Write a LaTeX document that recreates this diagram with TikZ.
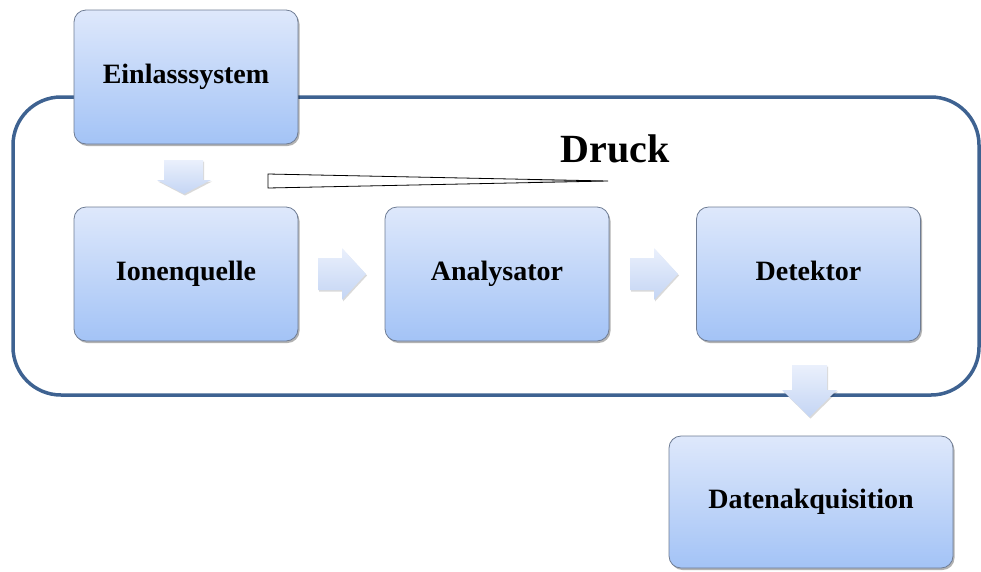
\documentclass[tikz,border=0pt]{standalone}
\usepackage{fontspec}
\setmainfont{Liberation Serif}
\usetikzlibrary{shadows}
\definecolor{boxtop}{RGB}{222,232,251}
\definecolor{boxbot}{RGB}{163,195,246}
\definecolor{boxline}{RGB}{110,124,148}
\definecolor{frameblue}{RGB}{62,98,145}
\definecolor{arrtop}{RGB}{234,240,252}
\definecolor{arrbot}{RGB}{196,213,244}
\pgfdeclarehorizontalshading{wedgeshade}{100bp}{color(0bp)=(white); color(50bp)=(white); color(62bp)=(white); color(75bp)=(gray); color(88bp)=(black); color(100bp)=(black)}
\begin{document}
\begin{tikzpicture}[x=1pt,y=-1pt,
  blk/.style={rounded corners=12pt, draw=boxline, line width=0.8pt,
    top color=boxtop, bottom color=boxbot,
    drop shadow={shadow xshift=1.5pt, shadow yshift=-2pt, opacity=0.3, fill=black},
    font=\fontsize{28}{32}\selectfont\bfseries, inner sep=0pt,
    text height=19pt, text depth=6pt},
  barrow/.style={top color=arrtop, bottom color=arrbot,
    drop shadow={shadow xshift=1pt, shadow yshift=-1.5pt, opacity=0.15, fill=black}}
]
\useasboundingbox (0,0) rectangle (981,571);
% pressure frame
\draw[line width=3.5pt, color=frameblue, rounded corners=48pt] (13,97) rectangle (979,395);
% boxes
\node[blk, minimum width=224pt, minimum height=134pt] (ein) at (186,77) {Einlasssystem};
\node[blk, minimum width=224pt, minimum height=134pt] (ion) at (186,274) {Ionenquelle};
\node[blk, minimum width=224pt, minimum height=134pt] (ana) at (497,274) {Analysator};
\node[blk, minimum width=224pt, minimum height=134pt] (det) at (808.5,274) {Detektor};
\node[blk, minimum width=284pt, minimum height=132pt] (dat) at (811,502) {Datenakquisition};
% block arrows
\path[barrow] (164,160) -- (203,160) -- (203,180) -- (211,180) -- (184,194) -- (157,180) -- (164,180) -- cycle;
\path[barrow] (318,258) -- (342,258) -- (342,248) -- (366,274) -- (342,300) -- (342,290) -- (318,290) -- cycle;
\path[barrow] (630,258) -- (654,258) -- (654,248) -- (678,274) -- (654,300) -- (654,290) -- (630,290) -- cycle;
\path[barrow] (792,365) -- (827,365) -- (827,390) -- (837,390) -- (809.5,417) -- (782,390) -- (792,390) -- cycle;
% Druck
\node[font=\fontsize{40}{44}\selectfont\bfseries] (druck) at (615,149) {Druck};
\shade[shading=wedgeshade] (268,174) -- (608,181) -- (268,188) -- cycle;
\draw[line width=0.8pt, line join=miter] (268,174) -- (608,181) -- (268,188) -- cycle;
\end{tikzpicture}
\end{document}
